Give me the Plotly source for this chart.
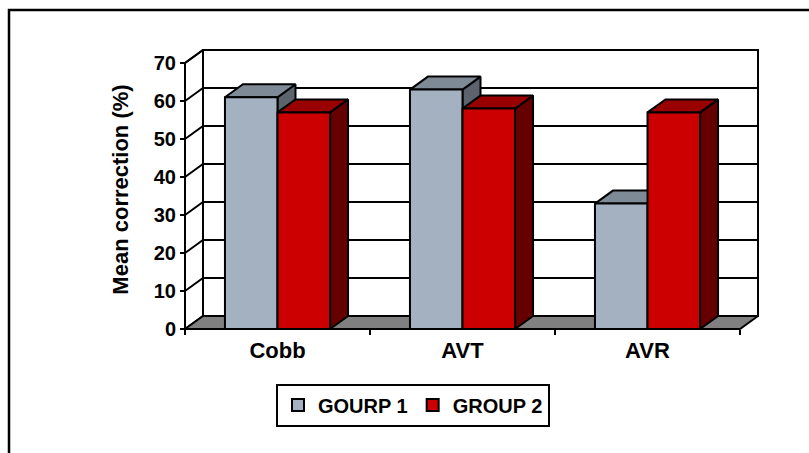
import plotly.graph_objects as go

# ---- data -------------------------------------------------------------
categories = ["Cobb", "AVT", "AVR"]
series_names = ["GOURP 1", "GROUP 2"]
group1_values = [61, 63, 33]
group2_values = [57, 58, 57]
y_tick_values = [0, 10, 20, 30, 40, 50, 60, 70]

# ---- geometry / style ---------------------------------------------------
W, H = 809, 453
SX = 185.0          # px per category slot
SY = 3.8            # px per value unit
X0_PX, Y0_PX = 185, 329   # pixel position of the front-bottom-left corner
PAD = 3             # room so the outer lines are not clipped
Y_MAX = 70
N = len(categories)
DX = 18 / SX        # depth of the 3-D box, in category units
DY = 13 / SY        # depth of the 3-D box, in value units
BAR_W = 0.284       # width of one bar, in category units

FRONT = ["#A3B1C1", "#CC0000"]
TOP = ["#7F8A97", "#990000"]
SIDE = ["#5B636C", "#660000"]
FLOOR = "#808080"
LW = 2
FONT = dict(family="Arial, Liberation Sans, sans-serif", color="black", weight="bold")

x_lo, x_hi = -PAD / SX, N + DX + PAD / SX
y_lo, y_hi = -PAD / SY, Y_MAX + DY + PAD / SY
m_l = X0_PX - PAD
m_r = W - (X0_PX + (N + DX) * SX + PAD)
m_t = Y0_PX - (Y_MAX + DY) * SY - PAD
m_b = H - (Y0_PX + PAD)
plot_w = W - m_l - m_r
plot_h = H - m_t - m_b


def paper_x(px):
    return (px - m_l) / plot_w


def paper_y(py):
    return (H - m_b - py) / plot_h


def polygon(xs, ys, fill):
    return go.Scatter(
        x=list(xs) + [xs[0]], y=list(ys) + [ys[0]], mode="lines",
        fill="toself", fillcolor=fill,
        line=dict(color="black", width=LW),
        hoverinfo="skip", showlegend=False,
    )


def polyline(xs, ys, width=LW):
    return go.Scatter(
        x=xs, y=ys, mode="lines",
        line=dict(color="black", width=width),
        hoverinfo="skip", showlegend=False,
    )


fig = go.Figure()

# back wall and left wall
fig.add_trace(polygon([DX, N + DX, N + DX, DX],
                      [DY, DY, Y_MAX + DY, Y_MAX + DY], "white"))
fig.add_trace(polygon([0, DX, DX, 0], [0, DY, Y_MAX + DY, Y_MAX], "white"))

# gridlines running across the left wall and the back wall
gx, gy = [], []
for v in y_tick_values[1:]:
    gx += [0, DX, N + DX, None]
    gy += [v, v + DY, v + DY, None]
fig.add_trace(polyline(gx, gy))

# floor
fig.add_trace(polygon([0, N, N + DX, DX], [0, 0, DY, DY], FLOOR))

# front vertical axis edge
fig.add_trace(polyline([0, 0], [0, Y_MAX]))

# 3-D bars, drawn left to right so nearer faces overlap correctly
groups = [group1_values, group2_values]
for i in range(N):
    centre = i + 0.5
    for g, vals in enumerate(groups):
        v = vals[i]
        xl = centre - BAR_W + g * BAR_W
        xr = xl + BAR_W
        fig.add_trace(polygon([xr, xr + DX, xr + DX, xr], [0, DY, v + DY, v], SIDE[g]))
        fig.add_trace(polygon([xl, xr, xr + DX, xl + DX], [v, v, v + DY, v + DY], TOP[g]))
        fig.add_trace(polygon([xl, xr, xr, xl], [0, 0, v, v], FRONT[g]))

# legend entries
for g, name in enumerate(series_names):
    fig.add_trace(go.Bar(
        x=[None], y=[None], name=name,
        marker=dict(color=FRONT[g], line=dict(color="black", width=2)),
    ))

# carrier for the boundary tick axis
fig.add_trace(go.Scatter(x=[None], y=[None], xaxis="x2", yaxis="y",
                         showlegend=False, hoverinfo="skip"))

fig.update_layout(
    width=W, height=H,
    margin=dict(l=m_l, r=m_r, t=m_t, b=m_b, pad=0),
    paper_bgcolor="white", plot_bgcolor="rgba(0,0,0,0)",
    font=dict(size=20, **FONT),
    showlegend=True,
    legend=dict(
        orientation="h", x=paper_x(413), xanchor="center",
        y=paper_y(405), yanchor="middle",
        bgcolor="white", bordercolor="black", borderwidth=2,
        font=dict(size=20, **FONT), itemwidth=30,
    ),
    xaxis=dict(
        range=[x_lo, x_hi], anchor="free", position=PAD / plot_h,
        tickvals=[i + 0.5 for i in range(N)], ticktext=categories,
        ticks="", showgrid=False, zeroline=False, showline=False,
        tickfont=dict(size=22, **FONT), ticklabelstandoff=6,
        fixedrange=True,
    ),
    xaxis2=dict(
        range=[x_lo, x_hi], overlaying="x", anchor="free",
        position=PAD / plot_h, side="bottom",
        tickvals=list(range(N + 1)), ticks="outside", ticklen=5,
        tickwidth=2, tickcolor="black", showticklabels=False,
        showgrid=False, zeroline=False, showline=False, fixedrange=True,
    ),
    yaxis=dict(
        range=[y_lo, y_hi], anchor="free", position=PAD / plot_w,
        tickvals=y_tick_values, ticks="outside", ticklen=5, tickwidth=2,
        tickcolor="black", showgrid=False, zeroline=False, showline=False,
        tickfont=dict(size=20, **FONT),
        title=dict(text="Mean correction (%)", font=dict(size=22, **FONT), standoff=18),
        fixedrange=True,
    ),
    shapes=[
        # outer chart frame (runs off the right and bottom of the page)
        dict(type="rect", xref="paper", yref="paper",
             x0=paper_x(9), x1=paper_x(W + 10),
             y0=paper_y(H + 10), y1=paper_y(10),
             line=dict(color="black", width=2.5), layer="below"),
    ],
)

fig.write_html("out.html")
